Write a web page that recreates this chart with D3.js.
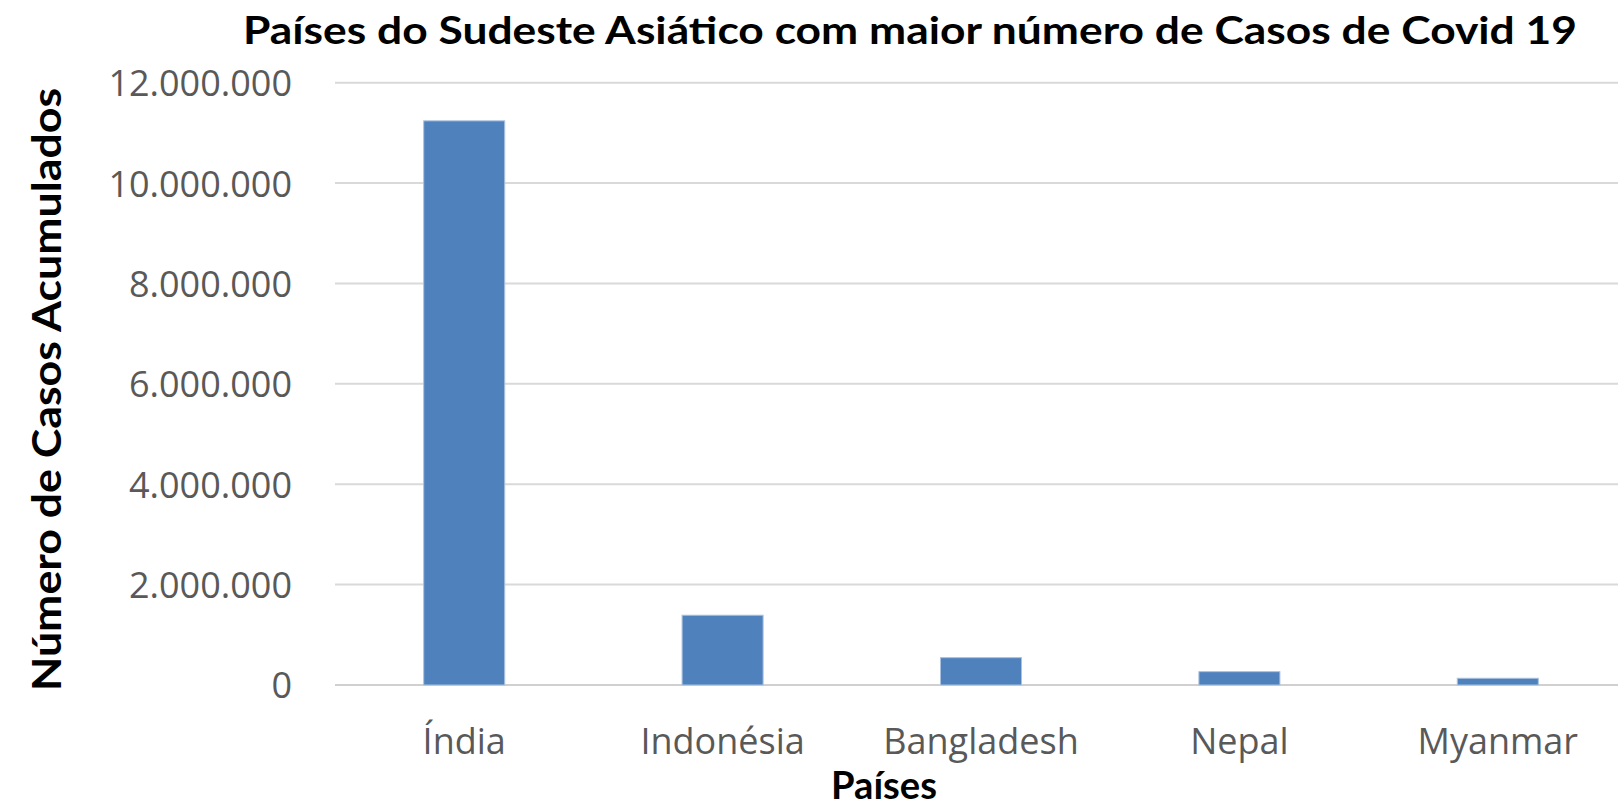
<!DOCTYPE html>
<html>
<head>
<meta charset="utf-8">
<script src="https://cdn.jsdelivr.net/npm/d3@7"></script>
<style>
  html, body { margin: 0; padding: 0; background: #fff; overflow: hidden; }
</style>
</head>
<body>
<div id="chart"></div>
<script>
// Data
var paises = ["Índia", "Indonésia", "Bangladesh", "Nepal", "Myanmar"];
var casos = [11240000, 1390000, 545000, 266000, 134000];
var yTicks = [0, 2000000, 4000000, 6000000, 8000000, 10000000, 12000000];

var width = 1618,
    height = 807;

var plot = {left: 335, right: 1627, top: 82.7, bottom: 685};

var ptBR = d3.formatLocale({decimal: ",", thousands: ".", grouping: [3], currency: ["R$", ""]});
var fmt = ptBR.format(",d");

var svg = d3.select("#chart").append("svg")
    .attr("width", width)
    .attr("height", height);

var xScale = d3.scaleBand()
    .domain(paises)
    .range([plot.left, plot.right])
    .paddingInner(0.6865)
    .paddingOuter(0.34325);

var yScale = d3.scaleLinear()
    .domain([0, 12000000])
    .range([plot.bottom, plot.top]);

// gridlines
svg.append("g")
    .attr("class", "grid")
    .selectAll("line")
    .data(yTicks)
    .enter().append("line")
    .attr("x1", plot.left)
    .attr("x2", width)
    .attr("y1", function(d) { return yScale(d); })
    .attr("y2", function(d) { return yScale(d); })
    .attr("stroke", function(d) { return d === 0 ? "#d0d0d0" : "#d9d9d9"; })
    .attr("stroke-width", 2);

// y axis labels (no axis line)
var yAxis = d3.axisLeft(yScale)
    .tickValues(yTicks)
    .tickFormat(fmt)
    .tickSize(0)
    .tickPadding(0);

var yG = svg.append("g")
    .attr("transform", "translate(292,0)")
    .call(yAxis);
yG.select(".domain").remove();
yG.selectAll("text")
    .attr("dy", "0.36em")
    .style("font-family", "'Open Sans', sans-serif")
    .style("font-size", "36px")
    .attr("fill", "#595959");

// bars
svg.selectAll(".bar")
    .data(paises)
    .enter().append("rect")
    .attr("class", "bar")
    .attr("x", function(d) { return xScale(d); })
    .attr("width", xScale.bandwidth())
    .attr("y", function(d, i) { return yScale(casos[i]); })
    .attr("height", function(d, i) { return plot.bottom - yScale(casos[i]); })
    .attr("fill", "#4f81bd")
    .attr("stroke", "#a9c1de")
    .attr("stroke-width", 1);

// x axis labels
var xAxis = d3.axisBottom(xScale).tickSize(0).tickPadding(0);
var xG = svg.append("g")
    .attr("transform", "translate(0,754)")
    .call(xAxis);
xG.select(".domain").remove();
xG.selectAll("text")
    .attr("dy", 0)
    .attr("y", 0)
    .style("font-family", "'Open Sans', sans-serif")
    .style("font-size", "36px")
    .attr("fill", "#595959");

// titles
svg.append("text")
    .attr("x", 243)
    .attr("y", 44)
    .attr("textLength", 1334)
    .attr("lengthAdjust", "spacingAndGlyphs")
    .style("font-family", "Lato, sans-serif")
    .style("font-weight", "bold")
    .style("font-size", "38px")
    .attr("fill", "#000")
    .text("Países do Sudeste Asiático com maior número de Casos de Covid 19");

svg.append("text")
    .attr("x", 884)
    .attr("y", 799)
    .style("text-anchor", "middle")
    .attr("textLength", 106)
    .attr("lengthAdjust", "spacingAndGlyphs")
    .style("font-family", "Lato, sans-serif")
    .style("font-weight", "bold")
    .style("font-size", "38px")
    .attr("fill", "#000")
    .text("Países");

svg.append("text")
    .attr("transform", "translate(61,389.5) rotate(-90)")
    .style("text-anchor", "middle")
    .attr("textLength", 603)
    .attr("lengthAdjust", "spacingAndGlyphs")
    .style("font-family", "Lato, sans-serif")
    .style("font-weight", "bold")
    .style("font-size", "40px")
    .attr("fill", "#000")
    .text("Número de Casos Acumulados");
</script>
</body>
</html>
